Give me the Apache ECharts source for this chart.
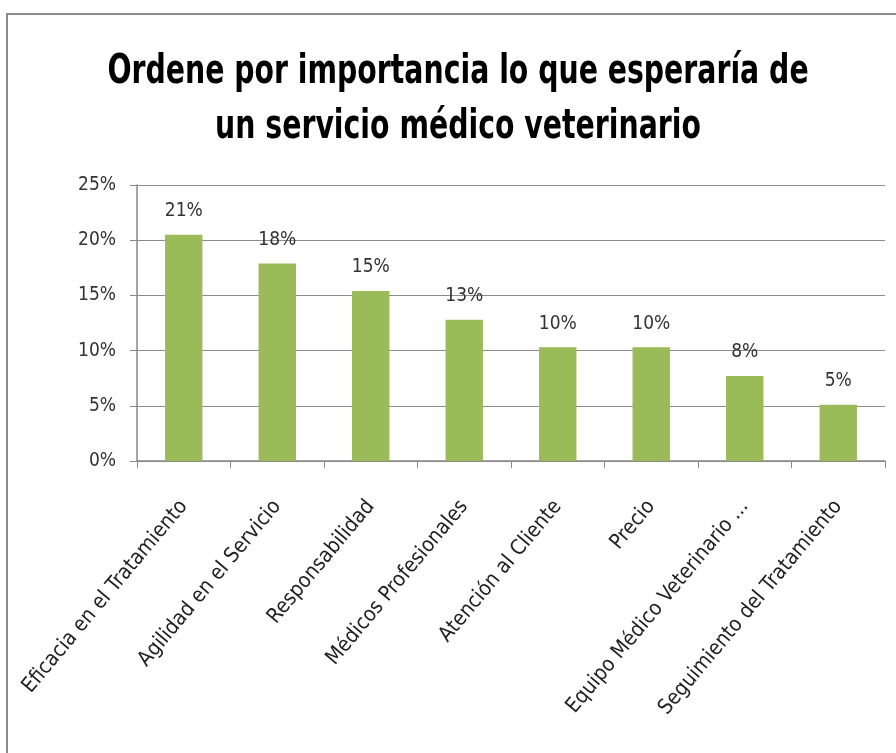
<!DOCTYPE html>
<html>
<head>
<meta charset="utf-8">
<script src="https://cdn.jsdelivr.net/npm/echarts@6/dist/echarts.min.js"></script>
<style>
	html, body { margin: 0; padding: 0; background: #fff; }
	#chart { width: 896px; height: 753px; }
	#frame { position: absolute; left: 6px; top: 13px; width: 900px; height: 760px; border: 2px solid #8a8a8a; box-sizing: border-box; pointer-events: none; }
</style>
</head>
<body>
<div id="chart"></div>
<div id="frame"></div>
<script>
var titulo = 'Ordene por importancia lo que esperaría de\nun servicio médico veterinario';
var categorias = ['Eficacia en el Tratamiento', 'Agilidad en el Servicio', 'Responsabilidad', 'Médicos Profesionales',
	'Atención al Cliente', 'Precio', 'Equipo Médico Veterinario ...', 'Seguimiento del Tratamiento'];
var porcentajes = [20.5, 17.9, 15.4, 12.8, 10.3, 10.3, 7.7, 5.1];
var ticksY = [0, 5, 10, 15, 20, 25];

var fuente = '"DejaVu Sans Condensed", "Open Sans", sans-serif';
var myChart = echarts.init(document.getElementById('chart'));
var option = {
	animation: false,
	// titulo como texto grafico, estirado en vertical como en la imagen original
	graphic: [{
		type: 'text',
		x: 458,
		y: 45,
		scaleY: 1.28,
		style: {
			text: titulo,
			fontFamily: fuente,
			fontWeight: 'bold',
			fontSize: 31.5,
			lineHeight: 43,
			textAlign: 'center',
			textVerticalAlign: 'top',
			fill: '#000'
		}
	}],
	grid: {
		left: 137,
		right: 11,
		top: 185,
		bottom: 292,
		containLabel: false
	},
	xAxis: {
		type: 'category',
		data: categorias,
		axisLine: { lineStyle: { color: '#888', width: 1.5 } },
		axisTick: { show: true, length: 7, lineStyle: { color: '#888' } },
		axisLabel: {
			rotate: 50,
			interval: 0,
			margin: 42,
			fontFamily: fuente,
			fontSize: 21,
			color: '#222'
		}
	},
	yAxis: {
		type: 'value',
		min: ticksY[0],
		max: ticksY[ticksY.length - 1],
		interval: 5,
		axisLine: { show: true, lineStyle: { color: '#888', width: 1.5 } },
		axisTick: { show: true, length: 7, lineStyle: { color: '#888' } },
		splitLine: { lineStyle: { color: '#8c8c8c', width: 1.2 } },
		axisLabel: {
			margin: 21,
			fontFamily: fuente,
			fontSize: 19,
			color: '#333',
			formatter: function (v) { return v + '%'; }
		}
	},
	series: [{
		type: 'bar',
		data: porcentajes,
		barWidth: '40%',
		itemStyle: { color: '#9bbb59' },
		label: {
			show: true,
			position: 'top',
			distance: 14,
			fontFamily: fuente,
			fontSize: 19,
			color: '#333',
			formatter: function (p) { return Math.round(p.value) + '%'; }
		}
	}]
};
myChart.setOption(option);
</script>
</body>
</html>
